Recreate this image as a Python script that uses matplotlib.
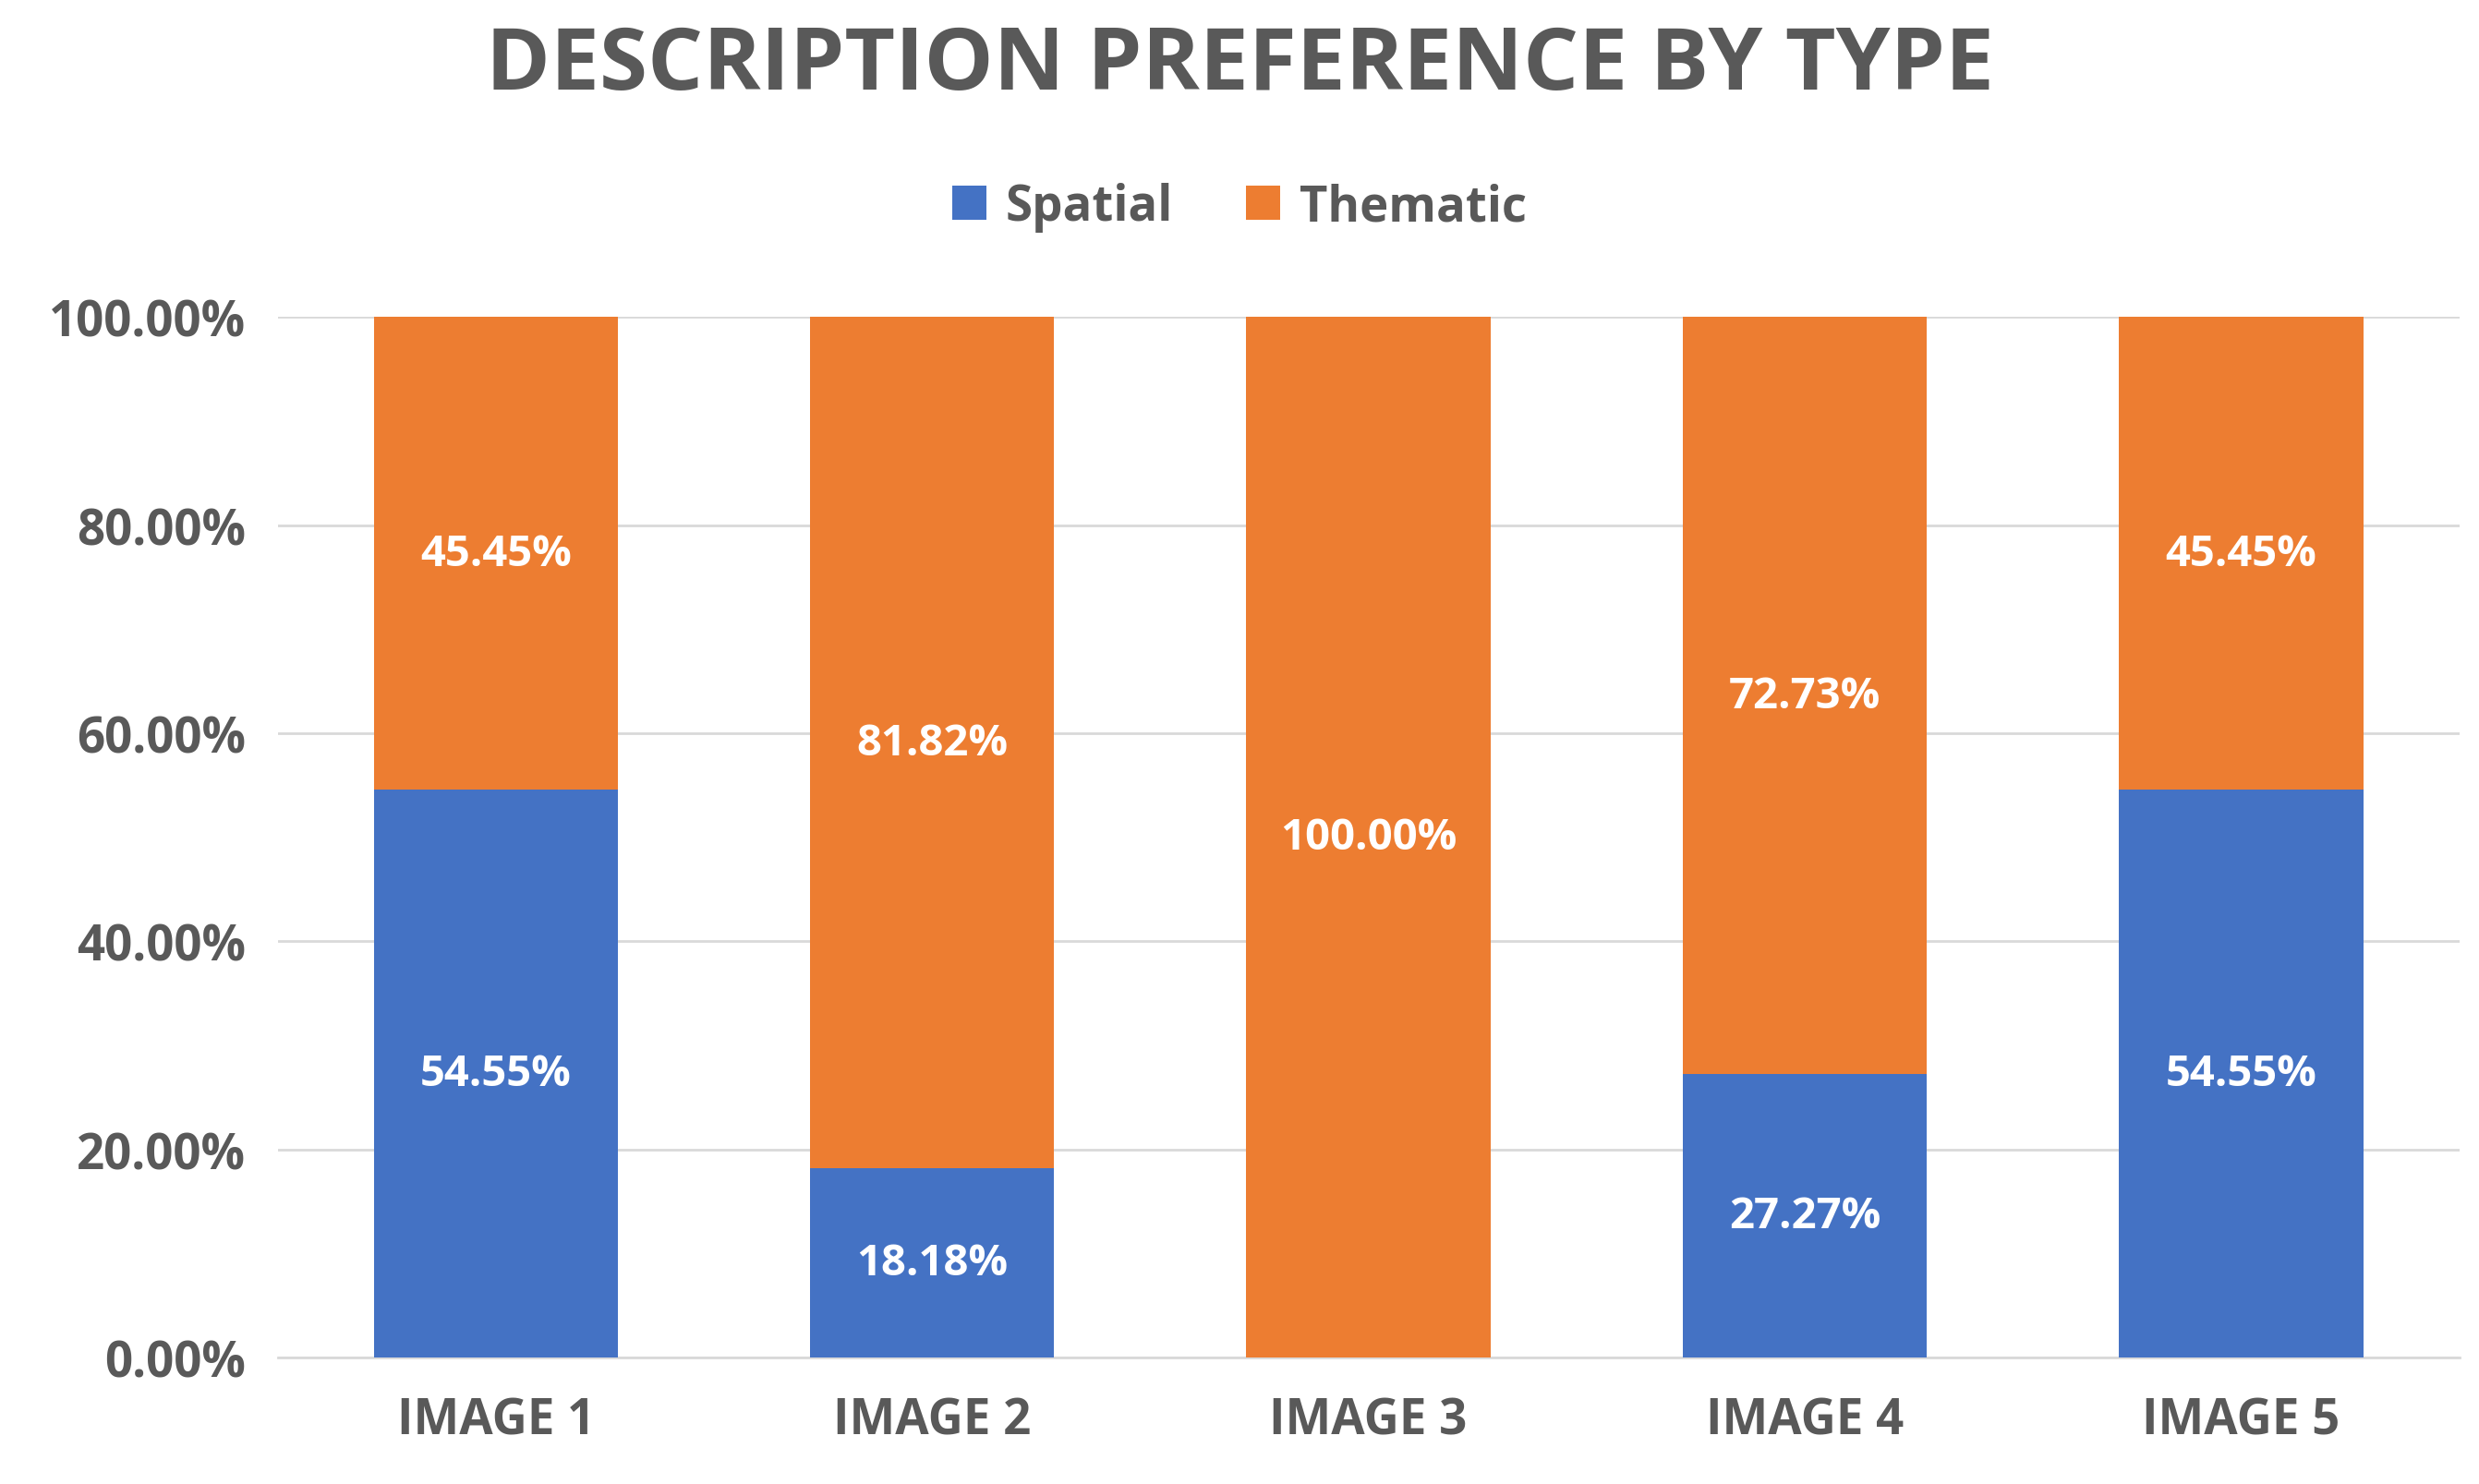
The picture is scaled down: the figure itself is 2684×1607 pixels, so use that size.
import matplotlib
matplotlib.use("Agg")
import matplotlib.pyplot as plt
from matplotlib.ticker import FuncFormatter

categories = ["IMAGE 1", "IMAGE 2", "IMAGE 3", "IMAGE 4", "IMAGE 5"]
spatial = [54.55, 18.18, 0.0, 27.27, 54.55]
thematic = [45.45, 81.82, 100.0, 72.73, 45.45]

plt.rcParams['font.family'] = ['Open Sans', 'DejaVu Sans']
grey = "#595959"
blue = "#4472C4"
orange = "#ED7D31"

fig = plt.figure(figsize=(26.84, 16.08), dpi=100)
ax = fig.add_axes([0.112, 0.085, 0.88, 0.701])
x = range(len(categories))
w = 0.56
ax.bar(x, spatial, w, color=blue, label="Spatial", zorder=3)
ax.bar(x, thematic, w, bottom=spatial, color=orange, label="Thematic", zorder=3)
for i in x:
    if spatial[i] > 0:
        ax.text(i, spatial[i] / 2, f"{spatial[i]:.2f}%", ha="center", va="center",
                color="white", fontsize=34, fontweight="bold", zorder=4)
    if thematic[i] > 0:
        ax.text(i, spatial[i] + thematic[i] / 2, f"{thematic[i]:.2f}%", ha="center", va="center",
                color="white", fontsize=34, fontweight="bold", zorder=4)

ax.set_ylim(0, 100)
ax.set_xlim(-0.5, 4.5)
ax.set_yticks([0, 20, 40, 60, 80, 100])
ax.yaxis.set_major_formatter(FuncFormatter(lambda v, p: f"{v:.2f}%"))
ax.set_xticks(list(x))
ax.set_xticklabels(categories)
ax.grid(axis="y", color="#D9D9D9", linewidth=2, zorder=0)
for s in ["top", "right", "left"]:
    ax.spines[s].set_visible(False)
ax.spines["bottom"].set_color("#D9D9D9")
ax.spines["bottom"].set_linewidth(2)
ax.tick_params(axis="both", length=0, colors=grey, labelsize=38)
ax.tick_params(axis="x", pad=30)
ax.tick_params(axis="y", pad=25)
for lab in ax.get_xticklabels() + ax.get_yticklabels():
    lab.set_fontweight("bold")

fig.text(0.5, 0.955, "DESCRIPTION PREFERENCE BY TYPE", ha="center", va="center",
         fontsize=68, fontweight="bold", color=grey)
leg = fig.legend(loc="center", bbox_to_anchor=(0.5, 0.86), ncol=2, frameon=False,
                 prop={"size": 38, "weight": "bold"}, handlelength=0.7, handleheight=0.7,
                 columnspacing=1.5, handletextpad=0.4)
for t in leg.get_texts():
    t.set_color(grey)
fig.savefig("out.png", dpi=100)
